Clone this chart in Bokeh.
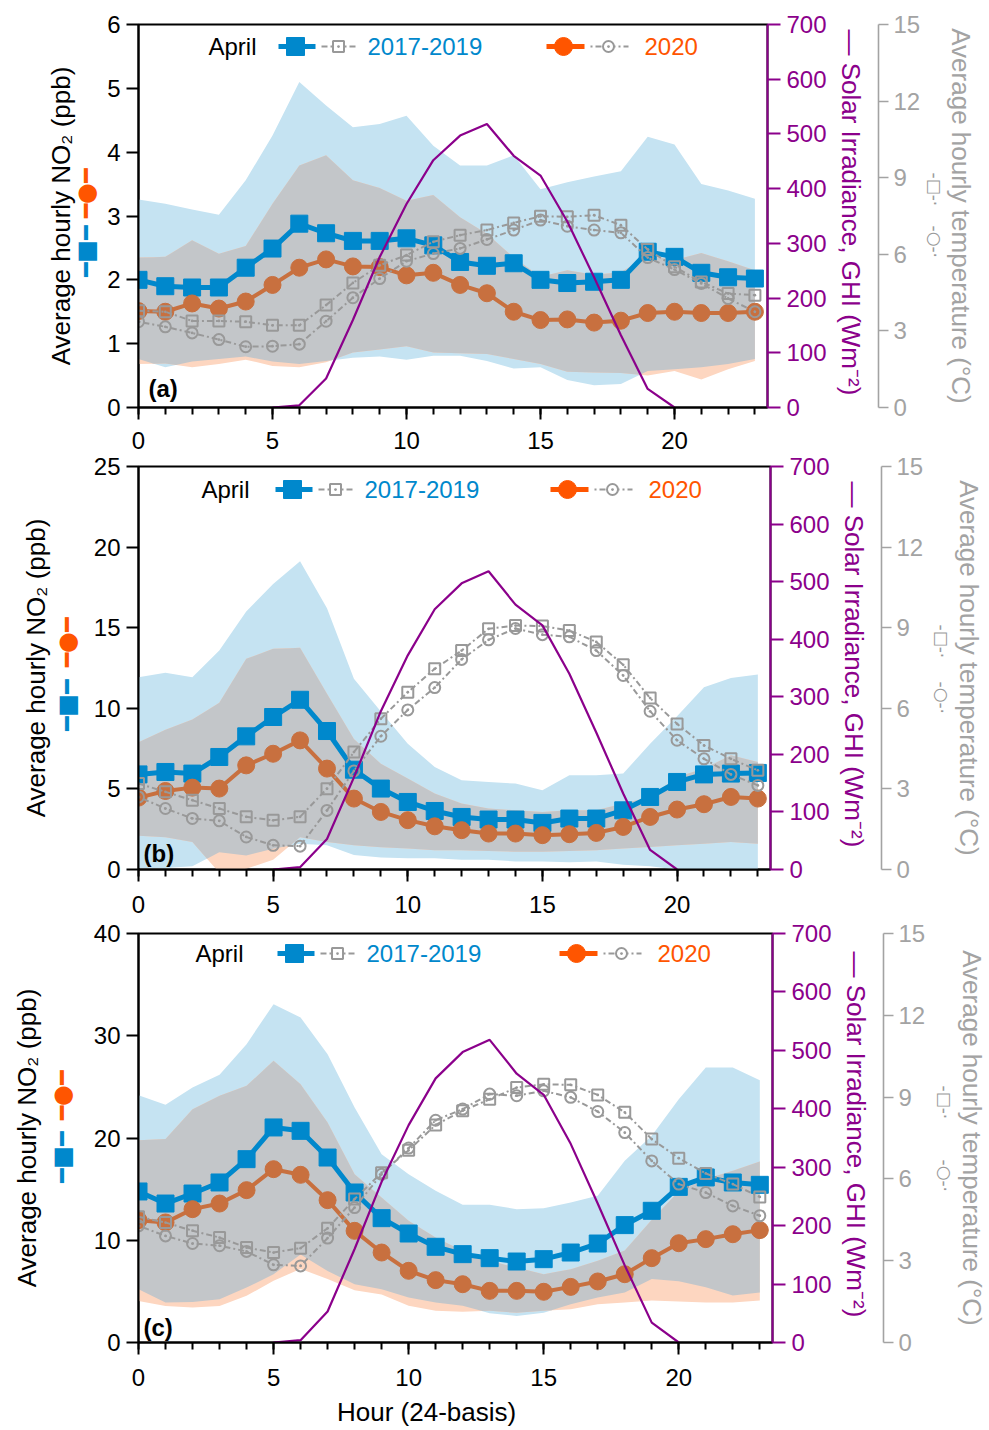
import numpy as np
from bokeh.plotting import figure
from bokeh.models import Range1d, LinearAxis, FixedTicker, SingleIntervalTicker, Label
from bokeh.layouts import column
from bokeh.embed import file_html
from bokeh.resources import INLINE

# ---------------- data ----------------
hours = list(range(24))
ghi_hours = list(range(5, 21))
ghi = [0, 4, 53, 160, 275, 372, 452, 497, 518, 460, 424, 340, 238, 132, 34, 0]

# panel (a)
a_no2_1719 = [2.00, 1.90, 1.88, 1.88, 2.19, 2.49, 2.88, 2.73, 2.61, 2.61, 2.65, 2.54,
              2.28, 2.22, 2.26, 2.00, 1.95, 1.97, 2.00, 2.44, 2.36, 2.11, 2.04, 2.02]
a_no2_2020 = [1.51, 1.50, 1.63, 1.55, 1.66, 1.92, 2.19, 2.32, 2.21, 2.20, 2.07, 2.11,
              1.92, 1.79, 1.50, 1.37, 1.38, 1.33, 1.36, 1.48, 1.50, 1.48, 1.48, 1.50]
a_hi_1719 = [3.26, 3.19, 3.10, 3.02, 3.56, 4.26, 5.10, 4.73, 4.39, 4.44, 4.57, 4.10,
             3.79, 3.79, 3.95, 3.42, 3.53, 3.62, 3.70, 4.24, 4.12, 3.50, 3.40, 3.27]
a_lo_1719 = [0.76, 0.63, 0.72, 0.76, 0.80, 0.72, 0.68, 0.73, 0.78, 0.80, 0.75, 0.81,
             0.81, 0.73, 0.61, 0.63, 0.43, 0.35, 0.37, 0.57, 0.60, 0.63, 0.68, 0.76]
a_hi_2020 = [2.35, 2.36, 2.62, 2.41, 2.53, 3.19, 3.79, 3.95, 3.56, 3.44, 3.24, 3.33,
             2.98, 2.72, 2.35, 2.05, 2.15, 2.08, 2.12, 2.38, 2.31, 2.42, 2.29, 2.15]
a_lo_2020 = [0.68, 0.69, 0.63, 0.68, 0.75, 0.65, 0.63, 0.71, 0.86, 0.91, 0.96, 0.86,
             0.85, 0.84, 0.76, 0.68, 0.56, 0.55, 0.54, 0.50, 0.57, 0.44, 0.60, 0.73]
a_t_1719 = [3.79, 3.75, 3.39, 3.39, 3.36, 3.22, 3.22, 4.01, 4.88, 5.57, 5.97, 6.49,
            6.75, 6.95, 7.23, 7.49, 7.47, 7.53, 7.14, 6.19, 5.51, 4.92, 4.46, 4.40]
a_t_2020 = [3.36, 3.16, 2.92, 2.66, 2.38, 2.40, 2.48, 3.38, 4.30, 5.05, 5.73, 6.03,
            6.23, 6.58, 6.95, 7.34, 7.10, 6.95, 6.84, 5.87, 5.40, 4.86, 4.27, 3.75]

# panel (b)
b_no2_1719 = [5.90, 6.05, 5.95, 6.98, 8.26, 9.46, 10.53, 8.59, 6.19, 5.02, 4.19, 3.63,
              3.26, 3.10, 3.10, 2.89, 3.16, 3.16, 3.67, 4.50, 5.43, 5.90, 5.95, 5.99]
b_no2_2020 = [4.46, 4.87, 5.08, 5.02, 6.46, 7.18, 8.01, 6.26, 4.40, 3.57, 3.06, 2.68,
              2.44, 2.23, 2.23, 2.13, 2.19, 2.27, 2.64, 3.26, 3.72, 4.05, 4.50, 4.40]
b_hi_1719 = [11.93, 12.2, 11.93, 13.58, 16.0, 17.71, 19.12, 16.2, 11.83, 9.8, 7.80, 6.36,
             5.53, 5.43, 5.33, 4.91, 5.84, 5.84, 5.95, 7.80, 9.5, 11.31, 11.88, 12.1]
b_lo_1719 = [0.1, 0.1, 0.2, 1.07, 0.87, 1.28, 1.6, 1.5, 0.9, 0.75, 0.7, 0.7,
             0.6, 0.6, 0.5, 0.5, 0.45, 0.5, 0.3, 0.2, 0.0, -0.3, -0.4, -0.4]
b_hi_2020 = [7.9, 8.67, 9.3, 10.35, 13.07, 13.69, 13.75, 10.9, 8.1, 6.56, 5.64, 4.71,
             4.09, 3.78, 3.67, 3.57, 3.67, 3.67, 4.09, 4.50, 5.74, 6.26, 7.08, 6.67]
b_lo_2020 = [2.1, 2.0, 1.7, -0.2, 0.05, 0.6, 2.0, 1.7, 1.5, 1.38, 1.3, 1.2,
             1.2, 1.15, 1.1, 1.1, 1.15, 1.2, 1.3, 1.4, 1.5, 1.6, 1.7, 1.6]
b_t_1719 = [3.20, 2.89, 2.58, 2.27, 1.96, 1.83, 1.96, 3.01, 4.37, 5.61, 6.60, 7.47,
            8.15, 8.96, 9.08, 9.06, 8.9, 8.47, 7.62, 6.38, 5.42, 4.62, 4.12, 3.69]
b_t_2020 = [2.70, 2.27, 1.90, 1.81, 1.21, 0.90, 0.87, 2.20, 3.67, 4.96, 5.94, 6.77,
            7.82, 8.55, 8.97, 8.74, 8.66, 8.15, 7.22, 5.89, 4.81, 4.12, 3.54, 3.13]

# panel (c)
c_no2_1719 = [14.77, 13.59, 14.57, 15.65, 17.93, 21.03, 20.70, 18.09, 14.67, 12.16, 10.66, 9.36,
              8.64, 8.25, 7.92, 8.15, 8.80, 9.68, 11.48, 12.88, 15.22, 16.14, 15.65, 15.42]
c_no2_2020 = [11.96, 11.74, 13.04, 13.59, 14.90, 16.95, 16.40, 13.92, 10.92, 8.80, 7.01, 6.10,
              5.70, 5.05, 5.05, 4.96, 5.44, 5.97, 6.68, 8.25, 9.71, 10.11, 10.59, 10.99]
c_hi_1719 = [24.19, 23.24, 24.94, 26.18, 29.18, 33.09, 31.79, 28.20, 22.98, 18.42, 16.46, 14.83,
             13.46, 13.46, 13.04, 13.14, 13.69, 14.34, 17.77, 20.21, 23.80, 26.90, 26.90, 25.66]
c_lo_1719 = [5.2, 3.9, 3.97, 4.23, 5.37, 6.68, 8.6, 7.0, 5.7, 5.2, 4.4, 3.9,
             3.6, 2.87, 2.6, 2.9, 3.75, 4.4, 4.9, 6.2, 6.0, 5.4, 4.6, 4.9]
c_hi_2020 = [19.79, 19.89, 22.82, 24.13, 25.10, 27.55, 25.26, 21.52, 16.46, 14.18, 11.90, 10.27,
             8.97, 7.99, 7.33, 6.68, 7.17, 7.99, 9.0, 12.0, 14.8, 16.0, 16.8, 17.70]
c_lo_2020 = [4.07, 3.58, 3.42, 3.58, 4.56, 6.03, 7.2, 6.2, 5.1, 4.7, 3.6, 3.1,
             3.0, 3.1, 2.9, 3.1, 3.26, 3.75, 3.9, 4.1, 4.0, 3.9, 3.9, 4.1]
c_t_1719 = [4.61, 4.40, 4.10, 3.85, 3.48, 3.30, 3.46, 4.19, 5.26, 6.23, 7.05, 7.98,
            8.50, 8.92, 9.35, 9.47, 9.45, 9.08, 8.44, 7.46, 6.76, 6.20, 5.81, 5.34]
c_t_2020 = [4.28, 3.91, 3.63, 3.55, 3.34, 2.85, 2.81, 3.83, 4.95, 6.17, 7.13, 8.15,
            8.56, 9.11, 9.05, 9.23, 8.99, 8.47, 7.70, 6.66, 5.81, 5.50, 5.01, 4.65]

ghi_ticks = [0, 100, 200, 300, 400, 500, 600, 700]
temp_ticks = [0, 3, 6, 9, 12, 15]

# ---------------- style ----------------
FONT = "Liberation Sans"
SYM = "DejaVu Sans"
BLUE = "#0088CC"
ORANGE_M = "#C8703F"
ORANGE = "#FF5500"
BAND_BLUE = "#C5E3F2"
BAND_OR = "#FDD6C0"
BAND_GRAY = "#C3C6C9"
GRAY = "#999999"
GRAY_AX = "#A3A3A3"
PURPLE = "#8B008B"
TICK_FS = "24px"
TITLE_FS = "26px"
NO2_TITLE = "Average hourly NO\u2082 (ppb)"
GHI_TITLE = "\u2014  Solar Irradiance, GHI (Wm\u207b\u00b2)"
T_TITLE = "Average hourly temperature (\u00b0C)"


def overlap(x, lo1, hi1, lo2, hi2):
    x = np.asarray(x, float)
    arrs = [np.asarray(v, float) for v in (lo1, hi1, lo2, hi2)]
    pts = set(x.tolist())
    for a, b in [(0, 2), (1, 3), (0, 3), (2, 1)]:
        d = arrs[a] - arrs[b]
        for i in range(len(x) - 1):
            if d[i] * d[i + 1] < 0:
                t = d[i] / (d[i] - d[i + 1])
                pts.add(x[i] + t * (x[i + 1] - x[i]))
    xs = np.array(sorted(pts))
    L = np.maximum(np.interp(xs, x, arrs[0]), np.interp(xs, x, arrs[2]))
    H = np.minimum(np.interp(xs, x, arrs[1]), np.interp(xs, x, arrs[3]))
    H = np.maximum(H, L)
    return xs, L, H


# layout configuration (pixel offsets)
PANELS = [
    dict(tag="(a)", fl=138, fw=629, fh=383, bt=24, bb=45, xls=12, xals=0, ymax=6, ystep=1,
         lso=19, lbso=-31, lals=-21, rso=11, rcso=-23, rals=-12,
         leg=(70, 140, 408), legy=361, lmark=(239, 182), rmark=(235, 182), tagpos=(10, 19)),
    dict(tag="(b)", fl=135, fw=632, fh=403, bt=14, bb=48, xls=14, xals=0, ymax=25, ystep=5,
         lso=24, lbso=-31, lals=-15, rso=15, rcso=-23, rals=-11,
         leg=(63, 137, 412), legy=380, lmark=(252, 190), rmark=(245, 188), tagpos=(5, 16)),
    dict(tag="(c)", fl=133, fw=634, fh=409, bt=16, bb=80, xls=14, xals=8, ymax=40, ystep=10,
         lso=29, lbso=-31, lals=-11, rso=16, rcso=-23, rals=-11,
         leg=(57, 139, 421), legy=389, lmark=(272, 211), rmark=(257, 183), tagpos=(5, 15)),
]
RIGHT_BORDER = 220


def style_axis(ax, color, tick_out=12):
    ax.axis_line_color = color
    ax.axis_line_width = 2
    ax.major_tick_line_color = color
    ax.major_tick_line_width = 2
    ax.major_tick_out = tick_out
    ax.major_tick_in = 0
    ax.minor_tick_line_color = None
    ax.major_label_text_font = FONT
    ax.major_label_text_font_size = TICK_FS
    ax.major_label_text_color = color
    ax.axis_label_text_font = FONT
    ax.axis_label_text_font_size = TITLE_FS
    ax.axis_label_text_font_style = "normal"
    ax.axis_label_text_color = color


def key_axis(p, side, ypos, text, color, size, standoff, angle, title=None, title_color=None, als=0):
    """An axis without line/ticks whose single tick label is a symbol key."""
    ax = LinearAxis(y_range_name="ly", ticker=FixedTicker(ticks=[ypos]),
                    major_label_overrides={ypos: text})
    ax.axis_line_color = None
    ax.major_tick_line_color = None
    ax.minor_tick_line_color = None
    ax.major_tick_out = 0
    ax.major_tick_in = 0
    ax.major_label_standoff = standoff
    ax.major_label_orientation = angle
    ax.major_label_text_font = SYM
    ax.major_label_text_font_size = size
    ax.major_label_text_color = color
    if title:
        ax.axis_label = title
        ax.axis_label_standoff = als
        ax.axis_label_text_font = FONT
        ax.axis_label_text_font_size = TITLE_FS
        ax.axis_label_text_font_style = "normal"
        ax.axis_label_text_color = title_color
    p.add_layout(ax, side)
    return ax


def make_panel(cfg, no2_1, no2_2, lo1, hi1, lo2, hi2, t1, t2, xlabel):
    fw, fh = cfg["fw"], cfg["fh"]
    p = figure(frame_width=fw, frame_height=fh,
               x_range=Range1d(0, 23.47), y_range=Range1d(0, cfg["ymax"]),
               output_backend="svg", toolbar_location=None,
               min_border_left=cfg["fl"], min_border_top=cfg["bt"],
               min_border_bottom=cfg["bb"], min_border_right=RIGHT_BORDER,
               background_fill_color="white", border_fill_color="white",
               outline_line_color="black", outline_line_width=2)
    p.grid.visible = False
    p.extra_y_ranges = {"ghi": Range1d(0, 700), "temp": Range1d(0, 15), "ly": Range1d(0, fh)}
    p.extra_x_ranges = {"lx": Range1d(0, fw)}

    # bands
    p.varea(x=hours, y1=lo1, y2=hi1, fill_color=BAND_BLUE)
    p.varea(x=hours, y1=lo2, y2=hi2, fill_color=BAND_OR)
    xs, L, H = overlap(hours, lo1, hi1, lo2, hi2)
    p.varea(x=xs, y1=L, y2=H, fill_color=BAND_GRAY)

    # NO2
    p.line(hours, no2_1, line_color=BLUE, line_width=5)
    p.scatter(hours, no2_1, marker="square", size=17, fill_color=BLUE, line_color=BLUE)
    p.line(hours, no2_2, line_color=ORANGE_M, line_width=4)
    p.scatter(hours, no2_2, marker="circle", size=17, fill_color=ORANGE_M, line_color=ORANGE_M)

    # temperature
    p.line(hours, t1, y_range_name="temp", line_color=GRAY, line_width=2, line_dash="6 3 2 3")
    p.scatter(hours, t1, y_range_name="temp", marker="square_dot", size=11,
              fill_color=None, line_color=GRAY, line_width=2)
    p.line(hours, t2, y_range_name="temp", line_color=GRAY, line_width=2, line_dash="2 3 6 3")
    p.scatter(hours, t2, y_range_name="temp", marker="circle_dot", size=11,
              fill_color=None, line_color=GRAY, line_width=2)

    # GHI
    p.line(ghi_hours, ghi, y_range_name="ghi", line_color=PURPLE, line_width=2.2)

    # bottom axis
    xa = p.xaxis[0]
    style_axis(xa, "black")
    xa.ticker = SingleIntervalTicker(interval=5, num_minor_ticks=5)
    xa.minor_tick_line_color = "black"
    xa.minor_tick_line_width = 2
    xa.minor_tick_out = 7
    xa.minor_tick_in = 0
    xa.major_label_standoff = cfg["xls"]
    if xlabel:
        xa.axis_label = xlabel
        xa.axis_label_standoff = cfg["xals"]

    # left: NO2 axis, symbol keys, title
    ya = p.yaxis[0]
    style_axis(ya, "black")
    ya.ticker = FixedTicker(ticks=list(range(0, cfg["ymax"] + 1, cfg["ystep"])))
    ya.major_label_standoff = 6
    lo_y, lb_y = cfg["lmark"]
    key_axis(p, "left", lo_y, "\u2501\u25cf\u2501", ORANGE, "24px", cfg["lso"], np.pi / 2)
    key_axis(p, "left", lb_y, "\u2501\u25a0\u2501", BLUE, "24px", cfg["lbso"], np.pi / 2,
             title=NO2_TITLE, title_color="black", als=cfg["lals"])

    # right: GHI axis
    ax_g = LinearAxis(y_range_name="ghi", ticker=FixedTicker(ticks=ghi_ticks), axis_label=GHI_TITLE)
    style_axis(ax_g, PURPLE, tick_out=13)
    ax_g.major_label_standoff = 6
    ax_g.axis_label_standoff = 6
    p.add_layout(ax_g, "right")

    # gap
    key_axis(p, "right", 0, "\u00a0", "white", "2px", 6, "horizontal")

    # temperature axis
    ax_t = LinearAxis(y_range_name="temp", ticker=FixedTicker(ticks=temp_ticks))
    style_axis(ax_t, GRAY_AX, tick_out=10)
    ax_t.axis_line_width = 1.6
    ax_t.major_tick_line_width = 1.6
    ax_t.major_label_standoff = 5
    p.add_layout(ax_t, "right")
    rs_y, rc_y = cfg["rmark"]
    key_axis(p, "right", rs_y, "-\u25a1-\u00b7", GRAY, "17px", cfg["rso"], -np.pi / 2)
    key_axis(p, "right", rc_y, "-\u25cb-\u00b7", GRAY, "17px", cfg["rcso"], -np.pi / 2,
             title=T_TITLE, title_color=GRAY_AX, als=cfg["rals"])

    # in-plot legend (pixel coordinates inside the frame)
    kw = dict(x_range_name="lx", y_range_name="ly")
    xa0, xb0, xo0 = cfg["leg"]
    y = cfg["legy"]
    p.add_layout(Label(x=xa0, y=y, text="April", text_baseline="middle", text_font=FONT,
                       text_font_size=TICK_FS, text_color="black", **kw))
    p.line([xb0, xb0 + 37], [y, y], line_color=BLUE, line_width=5, **kw)
    p.scatter([xb0 + 17], [y], marker="square", size=18, color=BLUE, **kw)
    p.line([xb0 + 43, xb0 + 80], [y, y], line_color=GRAY, line_width=2, line_dash="6 3 2 3", **kw)
    p.scatter([xb0 + 60], [y], marker="square_dot", size=11, fill_color="white",
              line_color=GRAY, line_width=2, **kw)
    p.add_layout(Label(x=xb0 + 89, y=y, text="2017-2019", text_baseline="middle",
                       text_font=FONT, text_font_size=TICK_FS, text_color=BLUE, **kw))
    p.line([xo0, xo0 + 38], [y, y], line_color=ORANGE, line_width=5, **kw)
    p.scatter([xo0 + 17], [y], marker="circle", size=18, color=ORANGE, **kw)
    p.line([xo0 + 44, xo0 + 82], [y, y], line_color=GRAY, line_width=2, line_dash="2 3 6 3", **kw)
    p.scatter([xo0 + 62], [y], marker="circle_dot", size=11, fill_color="white",
              line_color=GRAY, line_width=2, **kw)
    p.add_layout(Label(x=xo0 + 98, y=y, text="2020", text_baseline="middle",
                       text_font=FONT, text_font_size=TICK_FS, text_color=ORANGE, **kw))

    # panel tag
    p.add_layout(Label(x=cfg["tagpos"][0], y=cfg["tagpos"][1], text=cfg["tag"],
                       text_baseline="middle", text_font=FONT, text_font_style="bold",
                       text_font_size=TICK_FS, text_color="black", **kw))
    return p


pa = make_panel(PANELS[0], a_no2_1719, a_no2_2020, a_lo_1719, a_hi_1719, a_lo_2020, a_hi_2020,
                a_t_1719, a_t_2020, None)
pb = make_panel(PANELS[1], b_no2_1719, b_no2_2020, b_lo_1719, b_hi_1719, b_lo_2020, b_hi_2020,
                b_t_1719, b_t_2020, None)
pc = make_panel(PANELS[2], c_no2_1719, c_no2_2020, c_lo_1719, c_hi_1719, c_lo_2020, c_hi_2020,
                c_t_1719, c_t_2020, "Hour (24-basis)" + "\u00a0" * 8)

layout = column(pa, pb, pc, spacing=0)
open("out.html", "w").write(file_html(layout, INLINE))
